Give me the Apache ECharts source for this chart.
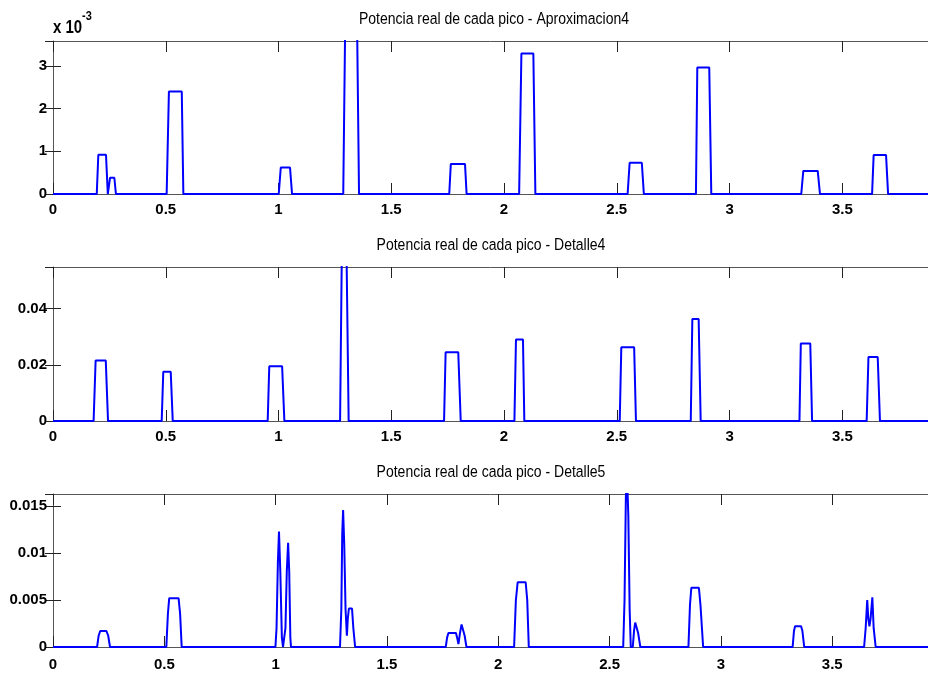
<!DOCTYPE html>
<html>
<head>
<meta charset="utf-8">
<script src="https://cdn.jsdelivr.net/npm/echarts@6/dist/echarts.min.js"></script>
<style>html,body{margin:0;padding:0;background:#fff;}#c{width:928px;height:673px;}</style>
</head>
<body>
<div id="c"></div>
<script>
// ---- Data ----
const titles = [
  'Potencia real de cada pico - Aproximacion4',
  'Potencia real de cada pico - Detalle4',
  'Potencia real de cada pico - Detalle5'
];
const xTickLabels = ['0', '0.5', '1', '1.5', '2', '2.5', '3', '3.5'];

// Panel 1 (values in units of 1e-3)
const aprox4X = [0, 0.194, 0.201, 0.235, 0.243, 0.253, 0.272, 0.279,
  0.504, 0.514, 0.571, 0.578, 1.001, 1.010, 1.051, 1.060,
  1.287, 1.297, 1.347, 1.357, 1.757, 1.764, 1.827, 1.834,
  2.067, 2.077, 2.130, 2.139, 2.548, 2.557, 2.611, 2.620,
  2.851, 2.857, 2.910, 2.919, 3.318, 3.327, 3.391, 3.401,
  3.632, 3.639, 3.694, 3.703, 3.95];
const aprox4Y = [0, 0, 0.92, 0.92, 0, 0.38, 0.38, 0,
  0, 2.40, 2.40, 0, 0, 0.62, 0.62, 0,
  0, 4.6, 4.6, 0, 0, 0.70, 0.70, 0,
  0, 3.29, 3.29, 0, 0, 0.73, 0.73, 0,
  0, 2.96, 2.96, 0, 0, 0.54, 0.54, 0,
  0, 0.91, 0.91, 0, 0];

// Panel 2
const det4X = [0, 0.180, 0.189, 0.234, 0.244, 0.482, 0.489, 0.522, 0.531,
  0.952, 0.959, 1.016, 1.026, 1.273, 1.282, 1.300, 1.311,
  1.734, 1.741, 1.797, 1.808, 2.046, 2.053, 2.084, 2.090,
  2.513, 2.520, 2.577, 2.585, 2.828, 2.835, 2.863, 2.872,
  3.310, 3.316, 3.358, 3.366, 3.608, 3.616, 3.657, 3.667, 3.95];
const det4Y = [0, 0, 0.0215, 0.0215, 0, 0, 0.0175, 0.0175, 0,
  0, 0.0195, 0.0195, 0, 0, 0.07, 0.07, 0,
  0, 0.0245, 0.0245, 0, 0, 0.029, 0.029, 0,
  0, 0.0262, 0.0262, 0, 0, 0.0363, 0.0363, 0,
  0, 0.0276, 0.0276, 0, 0, 0.0228, 0.0228, 0, 0];

// Panel 3
const det5X = [0,
  0.198, 0.205, 0.212, 0.240, 0.248, 0.256,
  0.509, 0.516, 0.522, 0.564, 0.571, 0.578,
  0.999, 1.004, 1.010, 1.015, 1.021, 1.028, 1.033, 1.038, 1.044, 1.050, 1.056, 1.061, 1.066, 1.069,
  1.289, 1.295, 1.299, 1.303, 1.308, 1.314, 1.320, 1.324, 1.329, 1.343, 1.349, 1.357,
  1.764, 1.770, 1.776, 1.810, 1.817, 1.821, 1.828, 1.835, 1.842, 1.849, 1.857,
  2.071, 2.079, 2.087, 2.123, 2.130, 2.137,
  2.561, 2.567, 2.573, 2.578, 2.584, 2.590, 2.595, 2.604, 2.610, 2.615, 2.621, 2.628, 2.638,
  2.854, 2.861, 2.867, 2.901, 2.908, 2.920,
  3.322, 3.328, 3.333, 3.360, 3.366, 3.374,
  3.643, 3.650, 3.657, 3.662, 3.667, 3.672, 3.680, 3.686, 3.695,
  3.95];
const det5Y = [0,
  0, 0.0012, 0.0017, 0.0017, 0.0012, 0,
  0, 0.0035, 0.0052, 0.0052, 0.0035, 0,
  0, 0.002, 0.009, 0.0123, 0.008, 0.001, 0, 0, 0.002, 0.008, 0.0111, 0.008, 0.001, 0,
  0, 0.004, 0.012, 0.0146, 0.011, 0.004, 0.0012, 0.003, 0.0041, 0.0041, 0.002, 0,
  0, 0.0010, 0.0015, 0.0015, 0.0008, 0.0003, 0.0015, 0.0024, 0.0024, 0.0012, 0,
  0, 0.005, 0.0069, 0.0069, 0.005, 0,
  0, 0.005, 0.016, 0.0185, 0.014, 0.004, 0, 0, 0.0018, 0.0026, 0.0026, 0.0015, 0,
  0, 0.0045, 0.0063, 0.0063, 0.0045, 0,
  0, 0.0017, 0.0022, 0.0022, 0.0017, 0,
  0, 0.002, 0.0050, 0.003, 0.0022, 0.003, 0.0053, 0.002, 0,
  0];

// ---- Chart ----
const FONT = '"Liberation Sans", Arial, sans-serif';
const zip = (xs, ys) => xs.map((x, i) => [x, ys[i]]);

const panels = [
  { top: 41, height: 153, xMax: 3.88, yMax: 3.58, yInt: 1, xMargin: 8, data: zip(aprox4X, aprox4Y) },
  { top: 267, height: 154, xMax: 3.88, yMax: 0.0548, yInt: 0.02, xMargin: 8, data: zip(det4X, det4Y) },
  { top: 494, height: 153, xMax: 3.93, yMax: 0.0163, yInt: 0.005, xMargin: 10, data: zip(det5X, det5Y) }
];

const grid = [], xAxis = [], yAxis = [], series = [];
const axisLineStyle = { color: '#555', width: 1 };
const tickStyle = { color: '#222', width: 1 };
const labelStyle = { fontFamily: FONT, fontSize: 15, fontWeight: 'bold', color: '#000' };

panels.forEach((p, i) => {
  grid.push({ left: 53, top: p.top, width: 875, height: p.height, containLabel: false });
  const xFmt = v => { const s = String(Math.round(v * 10) / 10); return xTickLabels.includes(s) ? s : ''; };
  xAxis.push({
    type: 'value', gridIndex: i, min: 0, max: p.xMax, interval: 0.5, position: 'bottom',
    axisLine: { show: true, onZero: false, lineStyle: axisLineStyle },
    axisTick: { show: true, inside: true, length: 11, lineStyle: tickStyle },
    axisLabel: { ...labelStyle, margin: p.xMargin, showMaxLabel: false, formatter: xFmt },
    splitLine: { show: false }
  });
  xAxis.push({
    type: 'value', gridIndex: i, min: 0, max: p.xMax, interval: 0.5, position: 'top',
    axisLine: { show: true, onZero: false, lineStyle: axisLineStyle },
    axisTick: { show: true, inside: true, length: 11, lineStyle: tickStyle },
    axisLabel: { show: false }, splitLine: { show: false }
  });
  const yFmt = v => {
    const k = Math.round(v / p.yInt);
    if (Math.abs(k * p.yInt - v) > p.yInt * 1e-6) return '';
    return String(parseFloat((k * p.yInt).toPrecision(6)));
  };
  yAxis.push({
    type: 'value', gridIndex: i, min: 0, max: p.yMax, interval: p.yInt, position: 'left',
    axisLine: { show: true, onZero: false, lineStyle: axisLineStyle },
    axisTick: { show: true, inside: true, length: 8, lineStyle: tickStyle },
    axisLabel: { ...labelStyle, margin: 6, showMaxLabel: false, formatter: yFmt },
    splitLine: { show: false }
  });
  yAxis.push({
    type: 'value', gridIndex: i, min: 0, max: p.yMax, interval: p.yInt, position: 'right',
    axisLine: { show: false },
    axisTick: { show: true, inside: true, length: 8, lineStyle: tickStyle },
    axisLabel: { show: false }, splitLine: { show: false }
  });
  series.push({
    type: 'line', xAxisIndex: i * 2, yAxisIndex: i * 2, data: p.data,
    showSymbol: false, symbol: 'none', clip: true,
    lineStyle: { color: '#0000ff', width: 2 }, itemStyle: { color: '#0000ff' }
  });
});

const titleXs = [494, 491, 491];
const titleYs = [19, 245, 472];
const graphic = titles.map((t, i) => ({
  type: 'text', x: titleXs[i], y: titleYs[i], scaleY: 1.18,
  style: { text: t, fontFamily: FONT, fontSize: 14, fill: '#000', textAlign: 'center', textVerticalAlign: 'middle' }
}));
graphic.push({ type: 'text', x: 53, y: 28, scaleY: 1.2, style: { text: 'x 10', fontFamily: FONT, fontSize: 15, fontWeight: 'bold', fill: '#000', textAlign: 'left', textVerticalAlign: 'middle' } });
graphic.push({ type: 'text', x: 82, y: 16, scaleY: 1.2, style: { text: '-3', fontFamily: FONT, fontSize: 11, fontWeight: 'bold', fill: '#000', textAlign: 'left', textVerticalAlign: 'middle' } });

const chart = echarts.init(document.getElementById('c'), null, { renderer: 'canvas' });
chart.setOption({ animation: false, backgroundColor: '#fff', grid, xAxis, yAxis, series, graphic });
</script>
</body>
</html>
